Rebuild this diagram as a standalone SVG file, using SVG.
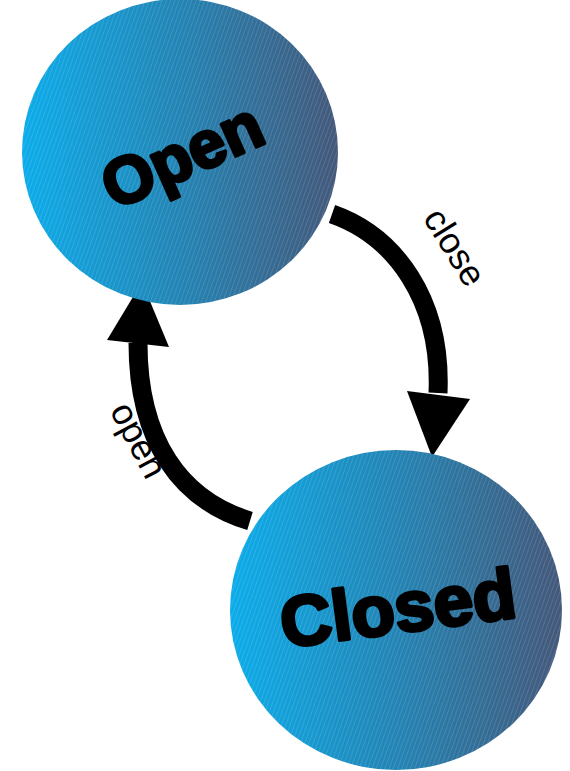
<svg xmlns="http://www.w3.org/2000/svg" width="570" height="771" viewBox="0 0 570 771">
<defs>
<linearGradient id="g" x1="0" y1="0.5" x2="1" y2="0.5">
<stop offset="0" stop-color="#0cacea"/>
<stop offset="0.5" stop-color="#2384b4"/>
<stop offset="1" stop-color="#44587a"/>
</linearGradient>
<pattern id="hatch" width="4" height="4" patternUnits="userSpaceOnUse" patternTransform="rotate(20)">
<rect x="0" y="0" width="1" height="4" fill="#ffffff" fill-opacity="0.12"/>
</pattern>
<style>
.node{fill:url(#g);}
.tex{fill:url(#hatch);}
.big{font-family:"Liberation Sans",Arial,sans-serif;font-weight:bold;fill:#000;stroke:#000;stroke-width:3.5;stroke-linejoin:round;text-anchor:middle;dominant-baseline:central;}
.lbl{font-family:"Liberation Sans",Arial,sans-serif;fill:#000;text-anchor:middle;dominant-baseline:central;font-size:36px;}
.edge{fill:none;stroke:#000;stroke-width:19;}
</style>
</defs>
<rect width="570" height="771" fill="#ffffff"/>
<g id="connectors">
<g id="edge-close">
<path class="edge" d="M332,214 C395,236 442,300 438,393"/>
<polygon points="407,391 470,399 432,457" fill="#000"/>
<text class="lbl" transform="translate(455,247) rotate(58)">close</text>
</g>
<g id="edge-open">
<path class="edge" d="M250,521 C180,500 138,440 138,343"/>
<polygon points="107,340 169,347 142,282" fill="#000"/>
<text class="lbl" transform="translate(139,440) rotate(62)">open</text>
</g>
</g>
<g id="node-open">
<ellipse class="node" cx="180" cy="152" rx="158" ry="153"/>
<ellipse class="tex" cx="180" cy="152" rx="158" ry="153"/>
<text class="big" font-size="66" transform="translate(182,155) rotate(-24)">Open</text>
</g>
<g id="node-closed">
<ellipse class="node" cx="396" cy="610" rx="166" ry="160"/>
<ellipse class="tex" cx="396" cy="610" rx="166" ry="160"/>
<text class="big" font-size="71" transform="translate(398,608) rotate(-7.5)">Closed</text>
</g>
</svg>
